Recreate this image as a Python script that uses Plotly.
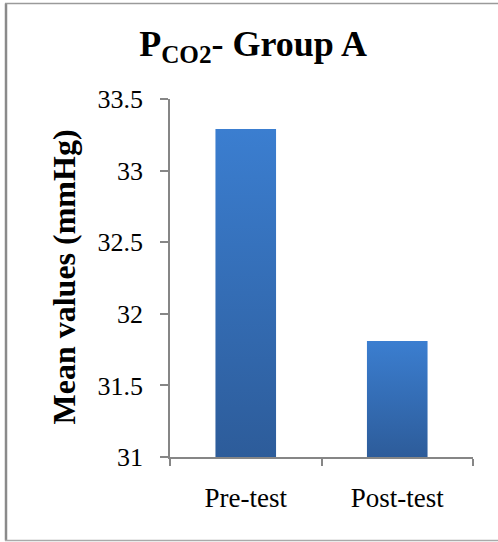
import plotly.graph_objects as go

# Mean PCO2 values for Group A
categories = ["Pre-test", "Post-test"]
mean_values = [33.29, 31.81]
y_ticks = [31, 31.5, 32, 32.5, 33, 33.5]
y_tick_labels = ["31", "31.5", "32", "32.5", "33", "33.5"]

Y_MIN, Y_MAX = 31, 33.5
BAR_WIDTH = 0.4
DARK_BLUE = "rgb(45,92,154)"
LIGHT_BLUE = "rgb(59,126,208)"
AXIS_GRAY = "#868686"
SERIF = "Liberation Serif"

fig = go.Figure()

# Each bar is a filled polygon so it can carry a vertical gradient
for i, (cat, val) in enumerate(zip(categories, mean_values)):
    x0, x1 = i - BAR_WIDTH / 2, i + BAR_WIDTH / 2
    fig.add_trace(go.Scatter(
        x=[x0, x0, x1, x1, x0],
        y=[Y_MIN, val, val, Y_MIN, Y_MIN],
        mode="lines",
        line=dict(width=0, color=LIGHT_BLUE),
        fill="toself",
        fillgradient=dict(type="vertical",
                          colorscale=[[0, DARK_BLUE], [1, LIGHT_BLUE]]),
        name=cat,
        hoverinfo="skip",
        showlegend=False,
    ))

MARGIN_L, MARGIN_R, MARGIN_T, MARGIN_B = 170, 25, 99, 85
W, H = 498, 542
pw = W - MARGIN_L - MARGIN_R
ph = H - MARGIN_T - MARGIN_B

def px_x(p):
    return (p - MARGIN_L) / pw

def px_y(p):
    return (H - MARGIN_B - p) / ph

fig.update_layout(
    width=W,
    height=H,
    margin=dict(l=MARGIN_L, r=MARGIN_R, t=MARGIN_T, b=MARGIN_B),
    paper_bgcolor="white",
    plot_bgcolor="white",
    font=dict(family=SERIF, color="black", size=26),
    title=dict(
        text="<b>P<sub>CO2</sub>- Group A</b>",
        font=dict(family=SERIF, size=36, color="black"),
        x=253 / W, xref="container", xanchor="center",
        y=1 - 43 / H, yref="container", yanchor="middle",
    ),
    xaxis=dict(
        range=[-0.5, 1.5],
        tickvals=list(range(len(categories))),
        ticktext=categories,
        ticks="",
        ticklabelstandoff=16,
        showgrid=False,
        zeroline=False,
        showline=True,
        linecolor=AXIS_GRAY,
        linewidth=1.5,
        tickfont=dict(family=SERIF, size=27, color="black"),
        minor=dict(tickvals=[-0.5, 0.5, 1.5], ticks="outside",
                   ticklen=7, tickcolor=AXIS_GRAY, tickwidth=1.5,
                   showgrid=False),
        fixedrange=True,
    ),
    yaxis=dict(
        range=[Y_MIN, Y_MAX],
        tickvals=y_ticks,
        ticktext=y_tick_labels,
        ticks="outside",
        ticklen=8,
        tickcolor=AXIS_GRAY,
        tickwidth=1.5,
        ticklabelstandoff=12,
        showgrid=False,
        zeroline=False,
        showline=True,
        linecolor=AXIS_GRAY,
        linewidth=1.5,
        tickfont=dict(family=SERIF, size=26, color="black"),
        fixedrange=True,
    ),
)

# Vertical axis title
fig.add_annotation(
    text="<b>Mean values (mmHg)</b>",
    xref="paper", yref="paper",
    x=px_x(63), y=px_y(277.5),
    xanchor="center", yanchor="middle",
    textangle=-90, showarrow=False,
    font=dict(family=SERIF, size=32, color="black"),
)

# Chart frame around the whole figure
fig.add_shape(type="line", xref="paper", yref="paper",
              x0=px_x(6), x1=px_x(6), y0=px_y(3.5), y1=px_y(540.5),
              line=dict(color="#8a8a8a", width=2.5))
fig.add_shape(type="line", xref="paper", yref="paper",
              x0=px_x(5), x1=px_x(505), y0=px_y(3.5), y1=px_y(3.5),
              line=dict(color="#9a9a9a", width=1.5))
fig.add_shape(type="line", xref="paper", yref="paper",
              x0=px_x(5), x1=px_x(505), y0=px_y(540.5), y1=px_y(540.5),
              line=dict(color="#aaaaaa", width=1.5))

fig.write_html("out.html", config=dict(displayModeBar=False))
